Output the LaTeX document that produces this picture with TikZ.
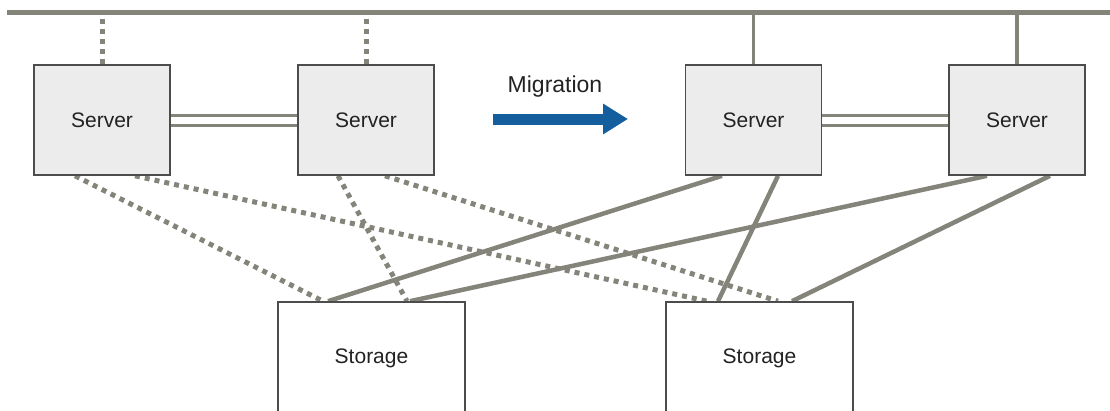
\documentclass[tikz,border=0pt]{standalone}
\usepackage{fontspec}
\setmainfont{Liberation Sans}
\usetikzlibrary{arrows.meta,backgrounds}
\definecolor{wire}{HTML}{85847A}
\definecolor{edge}{HTML}{4C4C4C}
\definecolor{boxfill}{HTML}{ECECEC}
\definecolor{migblue}{HTML}{155E9E}
\definecolor{ink}{HTML}{222222}

\begin{document}
\begin{tikzpicture}[
    x=1pt, y=-1pt, every node/.style={font=\fontsize{21}{24}\selectfont, text=ink},
    server/.style={rectangle, draw=edge, line width=1.6pt, fill=boxfill, minimum width=136pt, minimum height=110pt, inner sep=0pt},
    storage/.style={rectangle, draw=edge, line width=1.6pt, fill=white, minimum width=187pt, minimum height=112pt, inner sep=0pt},
    bus/.style={draw=wire, line width=5pt},
    live/.style={draw=wire, line width=4.5pt},
    idle/.style={draw=wire, line width=5pt, dash pattern=on 5pt off 5pt},
    pair/.style={draw=wire, line width=3pt, double=white, double distance=7pt},
    migration/.style={-{Triangle[length=25pt,width=29pt]}, line width=11pt, draw=migblue}
]
\useasboundingbox (0,0) rectangle (1110,410);

% servers before and after the move
\node[server] (s1) at (102,120) {Server};
\node[server] (s2) at (366,120) {Server};
\node[server] (s3) at (753.5,120) {Server};
\node[server] (s4) at (1017,120) {Server};

% storage, cut off at the bottom
\node[storage] (st1) at (371.5,358) {Storage};
\node[storage] (st2) at (759.5,358) {Storage};

% network bus
\coordinate (busw) at (7,12);
\coordinate (buse) at (1115,12);

\node[anchor=base, font=\fontsize{23}{26}\selectfont] (miglabel) at (555,92) {Migration};
\coordinate (migfrom) at (493,119);
\coordinate (migto) at (628,119);
\draw[migration] (migfrom) -- (migto);

\begin{scope}[on background layer]
\draw[bus] (busw) -- (buse);
\draw[idle] (s1.north) -- (s1.north |- busw);
\draw[idle] (s2.north) -- (s2.north |- busw);
\draw[live, line width=3.5pt] (s3.north) -- (s3.north |- busw);
\draw[live, line width=3.5pt] (s4.north) -- (s4.north |- busw);

\draw[pair] (s1) -- (s2);
\draw[pair] (s3) -- (s4);

% old paths (dotted)
\draw[idle] ([xshift=-27pt]s1.south) -- ([xshift=-48.5pt]st1.north);
\draw[idle] ([xshift=33pt]s1.south) -- ([xshift=-52.5pt]st2.north);
\draw[idle] ([xshift=-28pt]s2.south) -- ([xshift=35.5pt]st1.north);
\draw[idle] ([xshift=19pt]s2.south) -- ([xshift=18.5pt]st2.north);

% new paths
\draw[live] ([xshift=-31.5pt]s3.south) -- ([xshift=-43.5pt]st1.north);
\draw[live] ([xshift=24.5pt]s3.south) -- ([xshift=-41.5pt]st2.north);
\draw[live] ([xshift=-30pt]s4.south) -- ([xshift=38.5pt]st1.north);
\draw[live] ([xshift=33pt]s4.south) -- ([xshift=32.5pt]st2.north);
\end{scope}
\end{tikzpicture}
\end{document}
